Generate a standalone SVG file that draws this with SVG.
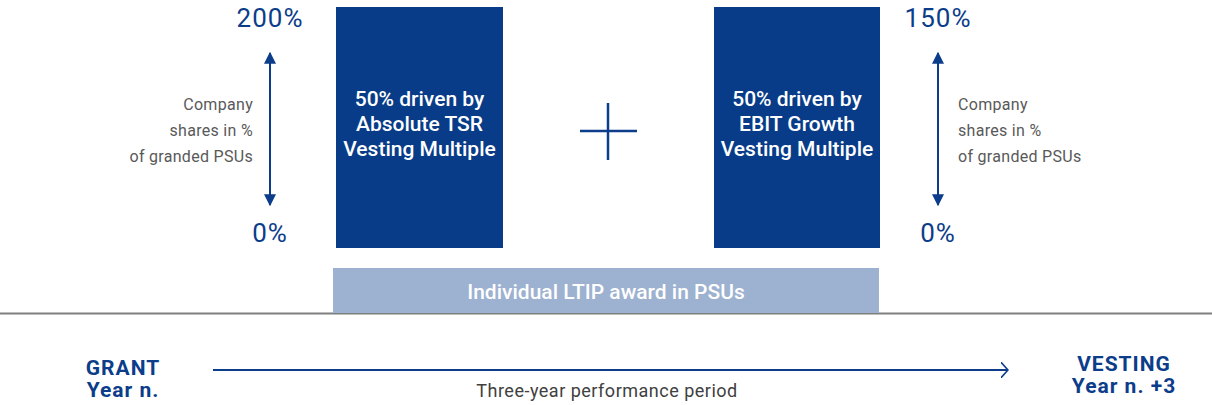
<svg xmlns="http://www.w3.org/2000/svg" width="1212" height="405" viewBox="0 0 1212 405">
  <style>
    text { font-family: Roboto, "Liberation Sans", sans-serif; }
    .pct { font-size: 26px; fill: #0b3d8a; letter-spacing: 1px; }
    .note { font-size: 16px; fill: #595959; letter-spacing: 0.3px; }
    .box { fill: #083c88; }
    .boxtxt { font-size: 21px; font-weight: 500; fill: #ffffff; text-anchor: middle; }
    .ends { font-size: 21px; font-weight: 700; fill: #0b3d8a; text-anchor: middle; letter-spacing: 1px; }
    .scale { stroke: #0b3d8a; stroke-width: 2; fill: none; }
  </style>
  <defs>
    <marker id="tri" viewBox="0 0 10 10" refX="9" refY="5" markerWidth="12" markerHeight="12" markerUnits="userSpaceOnUse" orient="auto-start-reverse">
      <path d="M0,0 L10,5 L0,10 Z" fill="#0b3d8a"/>
    </marker>
    <marker id="open" viewBox="0 0 10 20" refX="9" refY="10" markerWidth="8" markerHeight="16" markerUnits="userSpaceOnUse" orient="auto">
      <path d="M0,0 L9,10 L0,20" fill="none" stroke="#0b3d8a" stroke-width="2"/>
    </marker>
  </defs>

  <!-- baseline separating the award from the timeline -->
  <line x1="0" y1="313.5" x2="1212" y2="313.5" stroke="#7f7f7f" stroke-width="2"/>

  <g id="tsr-scale">
    <text class="pct" x="270" y="27" text-anchor="middle">200%</text>
    <text class="pct" x="270" y="242" text-anchor="middle">0%</text>
    <text class="note" x="253" y="110" text-anchor="end">Company</text>
    <text class="note" x="253" y="136" text-anchor="end">shares in %</text>
    <text class="note" x="253" y="162" text-anchor="end">of granded PSUs</text>
  </g>

  <g id="tsr-box">
    <rect class="box" x="336" y="7" width="167" height="241"/>
    <text class="boxtxt" x="419.5" y="106">50% driven by</text>
    <text class="boxtxt" x="419.5" y="131">Absolute TSR</text>
    <text class="boxtxt" x="419.5" y="156">Vesting Multiple</text>
  </g>

  <g id="plus">
    <line x1="608" y1="103" x2="608" y2="160" stroke="#0b3d8a" stroke-width="2.5"/>
    <line x1="580" y1="131" x2="637" y2="131" stroke="#0b3d8a" stroke-width="2.5"/>
  </g>

  <g id="ebit-box">
    <rect class="box" x="714" y="7" width="166" height="241"/>
    <text class="boxtxt" x="797" y="106">50% driven by</text>
    <text class="boxtxt" x="797" y="131">EBIT Growth</text>
    <text class="boxtxt" x="797" y="156">Vesting Multiple</text>
  </g>

  <g id="ebit-scale">
    <text class="pct" x="938" y="27" text-anchor="middle">150%</text>
    <text class="pct" x="938" y="242" text-anchor="middle">0%</text>
    <text class="note" x="958" y="110">Company</text>
    <text class="note" x="958" y="136">shares in %</text>
    <text class="note" x="958" y="162">of granded PSUs</text>
  </g>

  <g id="award">
    <rect x="333" y="268" width="546" height="45" fill="#9db1d0"/>
    <text x="606" y="299" font-size="21" font-weight="500" fill="#ffffff" text-anchor="middle">Individual LTIP award in PSUs</text>
  </g>

  <g id="grant">
    <text class="ends" x="123" y="375">GRANT</text>
    <text class="ends" x="123" y="397">Year n.</text>
  </g>

  <g id="vesting">
    <text class="ends" x="1124" y="371">VESTING</text>
    <text class="ends" x="1124" y="393">Year n. +3</text>
  </g>

  <g id="period">
    <text x="607" y="397" font-size="18" fill="#404040" text-anchor="middle" letter-spacing="0.5">Three-year performance period</text>
  </g>

  <g id="connectors">
    <line class="scale" x1="270" y1="53" x2="270" y2="205" marker-start="url(#tri)" marker-end="url(#tri)"/>
    <line class="scale" x1="938" y1="53" x2="938" y2="205" marker-start="url(#tri)" marker-end="url(#tri)"/>
    <line class="scale" x1="213" y1="370" x2="1008" y2="370" marker-end="url(#open)"/>
  </g>
</svg>
